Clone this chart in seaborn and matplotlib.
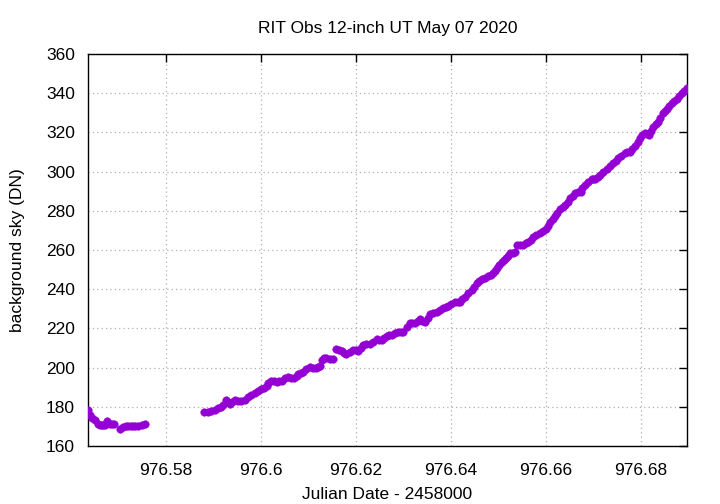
import matplotlib
matplotlib.use("Agg")
import matplotlib.pyplot as plt
import seaborn as sns
import pandas as pd
from matplotlib.ticker import FixedLocator, FuncFormatter

title = "RIT Obs 12-inch UT May 07 2020"
xlabel = "Julian Date - 2458000"
ylabel = "background sky (DN)"

jd = [976.5635, 976.5640, 976.5645, 976.5651, 976.5657, 976.5661, 976.5665, 976.5668,
      976.5672, 976.5677, 976.5682, 976.5686, 976.5691,
      976.5703, 976.5710, 976.5715, 976.5721, 976.5726, 976.5731, 976.5736, 976.5742,
      976.5749, 976.5756,
      976.5881, 976.5888, 976.5896, 976.5903, 976.5910, 976.5915, 976.5921, 976.5926,
      976.5930, 976.5935, 976.5940, 976.5945, 976.5952, 976.5959, 976.5966, 976.5973,
      976.5980, 976.5987, 976.5994, 976.6001, 976.6006, 976.6012, 976.6016, 976.6021,
      976.6027, 976.6033, 976.6039, 976.6045, 976.6051, 976.6057, 976.6063, 976.6070,
      976.6075, 976.6079, 976.6084, 976.6089, 976.6096, 976.6103, 976.6110, 976.6117,
      976.6121, 976.6124, 976.6128, 976.6133, 976.6138, 976.6145, 976.6152, 976.6159,
      976.6164, 976.6170, 976.6175, 976.6180, 976.6187, 976.6194, 976.6200, 976.6205,
      976.6210, 976.6215, 976.6222, 976.6229, 976.6236, 976.6244, 976.6249, 976.6254,
      976.6260, 976.6265, 976.6270, 976.6275, 976.6282, 976.6289, 976.6295, 976.6300,
      976.6307, 976.6314, 976.6319, 976.6324, 976.6330, 976.6335, 976.6340, 976.6345,
      976.6351, 976.6356, 976.6363, 976.6370, 976.6377, 976.6384, 976.6389, 976.6394,
      976.6401, 976.6408, 976.6414, 976.6419, 976.6424, 976.6429, 976.6437, 976.6444,
      976.6449, 976.6454, 976.6460, 976.6465, 976.6472, 976.6479, 976.6484, 976.6489,
      976.6493, 976.6496, 976.6502, 976.6507, 976.6512, 976.6517, 976.6521, 976.6524,
      976.6530, 976.6535, 976.6540, 976.6546, 976.6552, 976.6558, 976.6563, 976.6568,
      976.6573, 976.6580, 976.6587, 976.6594, 976.6600, 976.6604, 976.6608, 976.6614,
      976.6619, 976.6624, 976.6629, 976.6635, 976.6640, 976.6646, 976.6651, 976.6656,
      976.6661, 976.6667, 976.6673, 976.6677, 976.6682, 976.6689, 976.6696, 976.6700,
      976.6703, 976.6709, 976.6714, 976.6721, 976.6728, 976.6735, 976.6742, 976.6747,
      976.6752, 976.6759, 976.6766, 976.6771, 976.6777, 976.6782, 976.6787, 976.6793,
      976.6798, 976.6803, 976.6808, 976.6812, 976.6817, 976.6822, 976.6826, 976.6831,
      976.6836, 976.6841, 976.6847, 976.6850, 976.6854, 976.6860, 976.6865, 976.6870,
      976.6875, 976.6881, 976.6886, 976.6891, 976.6896]
sky = [178.4, 175.8, 174.1, 173.3, 171.1, 170.9, 170.7, 170.6,
       170.7, 172.9, 171.1, 171.2, 171.1,
       168.7, 169.5, 170.1, 170.4, 170.4, 170.4, 170.4, 170.4,
       170.7, 171.1,
       177.5, 177.6, 177.9, 178.5, 179.2, 180.0, 180.9, 183.5,
       182.4, 181.4, 182.3, 183.5, 183.2, 183.1, 183.7, 184.8,
       186.0, 187.2, 188.0, 188.9, 189.8, 190.6, 192.0, 193.3,
       193.0, 192.8, 193.0, 193.3, 194.5, 195.4, 194.9, 194.5,
       195.6, 196.7, 197.4, 197.9, 199.1, 200.2, 199.9, 199.6,
       200.2, 200.8, 203.9, 205.0, 204.7, 204.5, 204.2, 209.3,
       208.9, 208.5, 207.6, 206.9, 208.0, 209.0, 208.8, 208.6,
       210.0, 211.5, 211.8, 212.0, 213.2, 214.4, 214.2, 214.1,
       215.1, 216.1, 216.4, 216.6, 217.5, 218.3, 218.3, 218.3,
       220.5, 222.6, 222.7, 222.9, 223.8, 224.6, 224.0, 223.5,
       225.4, 227.3, 227.9, 228.5, 229.4, 230.2, 230.8, 231.4,
       232.5, 233.6, 233.6, 233.6, 234.9, 236.2, 237.9, 239.6,
       241.3, 243.0, 244.0, 245.0, 245.9, 246.7, 247.4, 248.1,
       249.3, 250.6, 252.3, 254.0, 254.9, 255.7, 257.0, 258.3,
       258.7, 259.1, 262.6, 262.6, 262.6, 263.4, 264.2, 265.3,
       266.5, 267.5, 268.5, 269.5, 270.6, 272.5, 274.4, 275.9,
       277.3, 279.1, 281.0, 282.0, 283.0, 284.7, 286.4, 287.6,
       288.9, 289.4, 289.8, 291.5, 293.2, 294.7, 296.1, 296.1,
       296.1, 297.2, 298.3, 299.7, 301.2, 302.7, 304.2, 305.5,
       306.8, 308.0, 309.3, 309.8, 310.2, 311.6, 313.1, 315.0,
       317.0, 318.5, 319.9, 319.3, 318.7, 320.8, 322.9, 324.2,
       325.5, 327.6, 329.7, 330.7, 331.8, 333.3, 334.8, 335.8,
       336.9, 338.4, 339.9, 341.2, 342.5]

xticks = [976.58, 976.60, 976.62, 976.64, 976.66, 976.68]
yticks = [160, 180, 200, 220, 240, 260, 280, 300, 320, 340, 360]

sns.set_style("white")
plt.rcParams['font.family'] = ['Liberation Sans', 'DejaVu Sans']
plt.rcParams['text.color'] = 'black'
plt.rcParams['axes.labelcolor'] = 'black'

df = pd.DataFrame({"jd": jd, "sky": sky})

fig = plt.figure(figsize=(7.2, 5.04), dpi=100)
ax = fig.add_axes([87.5 / 720, 1 - 446 / 504, (687 - 87.5) / 720, (446 - 54) / 504])

sns.scatterplot(data=df, x="jd", y="sky", ax=ax, color="#9400D3", s=30,
                edgecolor="#9400D3", linewidth=0.3, zorder=3, legend=False)

ax.set_xlim(976.5635, 976.6897)
ax.set_ylim(160, 360)
ax.xaxis.set_major_locator(FixedLocator(xticks))
ax.yaxis.set_major_locator(FixedLocator(yticks))
ax.xaxis.set_major_formatter(FuncFormatter(lambda v, p: "%g" % round(v, 2)))
ax.yaxis.set_major_formatter(FuncFormatter(lambda v, p: "%d" % v))

ax.grid(True, color="#b0b0b0", linestyle=(0, (1, 2.5)), linewidth=0.9)
ax.set_axisbelow(True)
ax.tick_params(direction="in", length=6, width=1, top=True, right=True,
               labelsize=12.5, colors="black")
ax.tick_params(axis="x", pad=12)
ax.tick_params(axis="y", pad=9)
for sp in ax.spines.values():
    sp.set_visible(True)
    sp.set_color("black")
    sp.set_linewidth(1.0)

ax.set_title(title, fontsize=12.5, pad=15, color="black")
ax.set_xlabel(xlabel, fontsize=12.5, labelpad=7, color="black")
ax.set_ylabel(ylabel, fontsize=12.5, labelpad=15, color="black")

fig.savefig("out.png", dpi=100)
